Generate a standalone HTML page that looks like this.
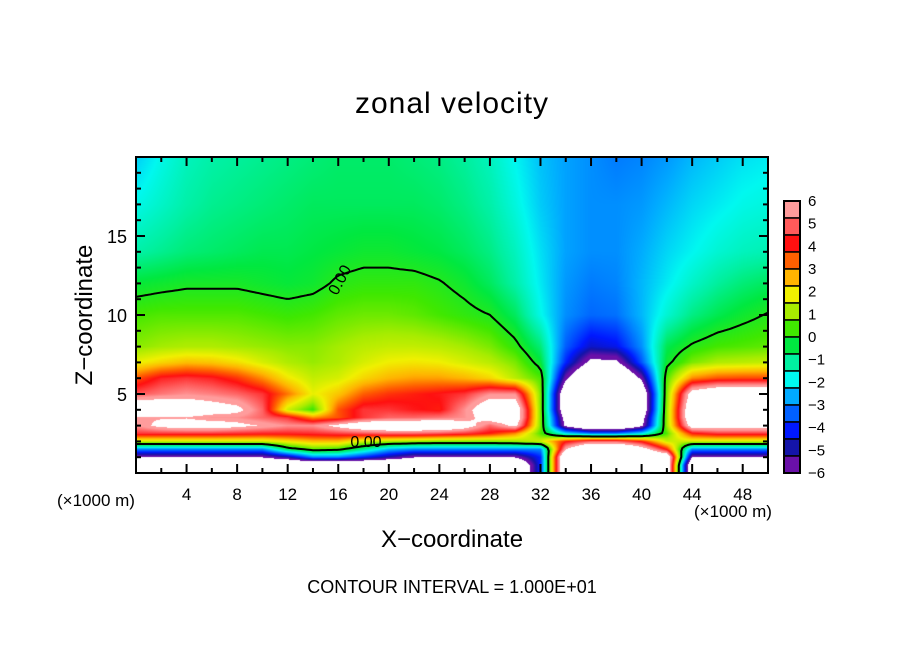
<!DOCTYPE html>
<html><head><meta charset="utf-8">
<style>
html,body{margin:0;padding:0;background:#fff;}
#wrap{position:relative;width:904px;height:654px;overflow:hidden;font-family:"Liberation Sans",sans-serif;}
#field{position:absolute;left:136px;top:157px;width:632px;height:316px;}
#ov{position:absolute;left:0;top:0;}
</style></head>
<body>
<div id="wrap">
<canvas id="field" width="632" height="316"></canvas>
<svg id="ov" width="904" height="654"></svg>
</div>
<script>
const xCats=[0,2,4,6,8,10,12,14,16,18,20,22,24,26,28,30,32,34,36,38,40,42,44,46,48,50];
const zLevels=[20,17,14,12,10,8,7,6,5,4,3.5,3,2.5,2,1.5,1,0.5,0];
const uField=[
[-2.3,-1.8,-1.4,-1.2,-1.1,-1.0,-0.9,-0.8,-0.7,-0.7,-0.7,-0.8,-0.9,-1.1,-1.4,-1.9,-2.4,-2.7,-2.9,-3.1,-3.0,-2.8,-2.5,-2.3,-2.1,-2.0],
[-1.8,-1.5,-1.2,-1.0,-0.9,-0.8,-0.7,-0.6,-0.6,-0.6,-0.6,-0.6,-0.7,-0.9,-1.2,-1.7,-2.3,-2.7,-2.9,-2.9,-2.8,-2.5,-2.2,-2.0,-1.8,-1.7],
[-1.2,-1.0,-0.8,-0.7,-0.6,-0.5,-0.5,-0.4,-0.3,-0.2,-0.2,-0.3,-0.4,-0.6,-0.9,-1.4,-2.1,-2.7,-2.9,-2.9,-2.6,-2.2,-1.9,-1.6,-1.4,-1.3],
[-0.3,-0.2,-0.1,-0.1,-0.1,-0.2,-0.3,-0.2,0.1,0.2,0.2,0.2,0.05,-0.2,-0.6,-1.2,-2.0,-2.8,-3.1,-3.0,-2.5,-2.0,-1.5,-1.1,-0.8,-0.6],
[0.4,0.5,0.5,0.5,0.5,0.4,0.3,0.4,0.6,0.7,0.7,0.6,0.4,0.2,0.0,-0.6,-1.8,-2.9,-3.3,-3.2,-2.5,-1.6,-0.9,-0.5,-0.2,0.05],
[0.9,1.1,1.2,1.2,1.1,1.0,0.9,0.9,1.1,1.3,1.4,1.4,1.3,1.1,0.8,0.2,-0.8,-3.4,-4.6,-4.3,-2.9,-0.5,0.1,0.4,0.5,0.6],
[1.8,2.2,2.5,2.4,2.1,1.6,1.2,1.0,1.2,1.6,1.9,2.0,1.9,1.6,1.3,0.8,-0.3,-4.0,-6.5,-6.4,-3.5,-0.2,0.8,1.2,1.3,1.4],
[3.5,4.3,4.5,4.3,3.8,3.0,2.0,1.4,1.6,2.2,2.6,2.8,2.8,2.6,2.2,1.3,0.5,-5.8,-9,-9,-5.8,0.5,3.0,3.5,3.6,3.6],
[4.8,5.2,5.5,5.3,5.0,4.5,3.2,1.8,2.4,3.4,3.8,4.0,4.2,4.5,5.5,5.5,0.8,-8,-9,-9,-8,0.8,7,8,8,8],
[8,8,7.5,7,6.5,5,1.5,0.3,3.5,4.5,4.5,4.2,4.0,5.5,7.5,7.5,0.8,-8,-9,-9,-8,1.0,8,8,8,7.5],
[6,6,6,5.5,5.5,5,4.5,3.0,3.5,4.5,5.0,5.0,5.2,5.5,7,7.5,0.8,-7,-9,-9,-7,1.0,8,8,8,7.5],
[5.5,6.5,7,7,6.5,6,5.5,5.5,6.5,7.5,8,8,8,7,5,6.5,0.8,-6.5,-9,-9,-6.5,1.0,7,7,7,7],
[4.5,4.5,4.5,4.5,4.4,4.3,4.3,4.4,4.6,4.8,5,5,4.8,4.5,4,3,0.5,-2,-3,-3,-2,0.5,4,4.5,4.5,4.5],
[1.5,1.5,1.5,1.5,1.5,1.5,2.0,2.5,2.5,1.5,1.2,1.0,0.8,0.8,0.8,1.0,1.5,4,5,5,4,1.5,1.5,1.5,1.5,1.5],
[-3,-3,-3,-3,-3,-3,-0.5,0.5,0.3,-1,-2.5,-3,-3,-3,-3,-3,-3,6,9,9,7,4,-3,-3,-3,-3],
[-6,-6,-6,-6,-6,-6,-5,-3,-3,-4,-5,-6,-6,-6,-6,-6,-4,9,9,9,9,8,-6,-6,-6,-6],
[-9,-9,-9,-9,-9,-9,-9,-9,-9,-9,-9,-9,-9,-9,-9,-9,-4,9,9,9,9,8,-9,-9,-9,-9],
[-9,-9,-9,-9,-9,-9,-9,-9,-9,-9,-9,-9,-9,-9,-9,-9,-4,9,9,9,9,8,-9,-9,-9,-9]
];
const xTickLabels=[4,8,12,16,20,24,28,32,36,40,44,48];
const zTickLabels=[5,10,15];
const cbLabels=["6","5","4","3","2","1","0","\u22121","\u22122","\u22123","\u22124","\u22125","\u22126"];
const bandColors=['#ff9c9c','#ff5a5a','#ff1010','#ff6000','#ffb400','#f0f000','#a8ec00','#40e800','#00e840','#00f0a0','#00f8f0','#00aaff','#0060ff','#0018ff','#1414a8','#6a10a8'];

const L=136,R=768,T=157,B=473;
const sx=x=>L+x/50*(R-L);
const sz=z=>B-z/20*(B-T);

function val(x,z){
  let j=0; while(j<zLevels.length-2 && z<zLevels[j+1]) j++;
  const t=Math.min(1,Math.max(0,(zLevels[j]-z)/(zLevels[j]-zLevels[j+1])));
  let i=Math.min(Math.floor(x/2),xCats.length-2);
  const s=Math.min(1,Math.max(0,(x-xCats[i])/(xCats[i+1]-xCats[i])));
  const a=uField[j][i],b=uField[j][i+1],c=uField[j+1][i],d=uField[j+1][i+1];
  return (a*(1-s)+b*s)*(1-t)+(c*(1-s)+d*s)*t;
}
const rgb=bandColors.map(h=>[parseInt(h.substr(1,2),16),parseInt(h.substr(3,2),16),parseInt(h.substr(5,2),16)]);
function color(v){
  if(v>6.1||v<-6.1) return [255,255,255];
  let p=(5.625-v)/0.75;
  if(p<=0) return rgb[0];
  if(p>=15) return rgb[15];
  const k=Math.floor(p),f=p-k;
  return [0,1,2].map(q=>rgb[k][q]*(1-f)+rgb[k+1][q]*f);
}
const cv=document.getElementById('field'),ctx=cv.getContext('2d');
const img=ctx.createImageData(632,316);
for(let py=0;py<316;py++)for(let px=0;px<632;px++){
  const x=(px+0.5)/632*50,z=20-(py+0.5)/316*20;
  const c=color(val(x,z));const o=(py*632+px)*4;
  img.data[o]=c[0];img.data[o+1]=c[1];img.data[o+2]=c[2];img.data[o+3]=255;
}
ctx.putImageData(img,0,0);

const NS='http://www.w3.org/2000/svg';
const svg=document.getElementById('ov');
function mk(tag,attrs,parent){const e=document.createElementNS(NS,tag);for(const k in attrs)e.setAttribute(k,attrs[k]);(parent||svg).appendChild(e);return e;}
function txt(s,x,y,size,anchor,name){const e=mk('text',{x:x,y:y,'font-size':size,'text-anchor':anchor||'middle','font-family':'Liberation Sans, sans-serif',fill:'#000'});e.textContent=s;return e;}

function contour(level,dash,width,name){
  const st=3,nx=Math.ceil((R-L)/st),ny=Math.ceil((B-T)/st);
  const g=[];
  for(let j=0;j<=ny;j++){g.push([]);for(let i=0;i<=nx;i++){const px=Math.min(L+i*st,R),py=Math.min(T+j*st,B);g[j].push(val((px-L)/(R-L)*50,(B-py)/(B-T)*20)-level);}}
  let d='';
  const P=(i,j)=>[Math.min(L+i*st,R),Math.min(T+j*st,B)];
  for(let j=0;j<ny;j++)for(let i=0;i<nx;i++){
    const v=[g[j][i],g[j][i+1],g[j+1][i+1],g[j+1][i]];
    const c=[P(i,j),P(i+1,j),P(i+1,j+1),P(i,j+1)];
    const pts=[];
    for(let e=0;e<4;e++){const a=v[e],b=v[(e+1)%4];if((a<0)!==(b<0)){const t=a/(a-b);const p1=c[e],p2=c[(e+1)%4];pts.push([p1[0]+(p2[0]-p1[0])*t,p1[1]+(p2[1]-p1[1])*t]);}}
    for(let k=0;k+1<pts.length;k+=2)d+='M'+pts[k][0].toFixed(1)+','+pts[k][1].toFixed(1)+'L'+pts[k+1][0].toFixed(1)+','+pts[k+1][1].toFixed(1);
  }
  const p=mk('path',{d:d,stroke:'#000','stroke-width':width,fill:'none','stroke-linecap':'round'});
  if(dash) p.setAttribute('stroke-dasharray',dash);
  
  
}
contour(0,null,2,'zero-contour');
txt('0.00',366,447,16,'middle','contour-label');
const lab=txt('0.00',340,285,16,'middle','contour-label-rotated');
lab.setAttribute('transform','rotate(-62 340 280)');

const fr=mk('rect',{x:L,y:T,width:R-L,height:B-T,fill:'none',stroke:'#000','stroke-width':2});


for(let x=2;x<50;x+=2){
  const len=(x%4===0)?9:5;
  const t1=mk('line',{x1:sx(x),x2:sx(x),y1:B,y2:B-len,stroke:'#000','stroke-width':2});
  
  
  const t2=mk('line',{x1:sx(x),x2:sx(x),y1:T,y2:T+len,stroke:'#000','stroke-width':2});
  
  
}
xTickLabels.forEach(v=>txt(String(v),sx(v),500,17,'middle','x-tick-label'));
for(let z=1;z<20;z++){
  const len=(z%5===0)?9:5;
  const t1=mk('line',{x1:L,x2:L+len,y1:sz(z),y2:sz(z),stroke:'#000','stroke-width':2});
  
  
  const t2=mk('line',{x1:R,x2:R-len,y1:sz(z),y2:sz(z),stroke:'#000','stroke-width':2});
  
  
}
zTickLabels.forEach(v=>txt(String(v),127,sz(v)+7,18,'end','z-tick-label'));

txt('zonal velocity',452,113,30,'middle','chart-title').setAttribute('letter-spacing','1');
txt('X\u2212coordinate',452,547,24,'middle','x-axis-title');
const yt=txt('Z\u2212coordinate',0,0,24,'middle','z-axis-title');
yt.setAttribute('transform','translate(92 315) rotate(-90)');
txt('(\u00d71000 m)',96,506,17,'middle','x-unit-left');
txt('(\u00d71000 m)',733,517,17,'middle','x-unit-right');
txt('CONTOUR INTERVAL = 1.000E+01',452,593,18,'middle','contour-interval-note');

const cbT=201,cbB=473,cbL=784,cbW=16,bh=(cbB-cbT)/bandColors.length;
bandColors.forEach((c,i)=>{
  const r=mk('rect',{x:cbL,y:cbT+i*bh,width:cbW,height:bh,fill:c,stroke:'#000','stroke-width':1.5});
  
  
});
const cbf=mk('rect',{x:cbL,y:cbT,width:cbW,height:cbB-cbT,fill:'none',stroke:'#000','stroke-width':2});


cbLabels.forEach((s,i)=>txt(s,808,cbT+i*(cbB-cbT)/(cbLabels.length-1)+5,15,'start','colorbar-label'));
</script>
</body></html>
